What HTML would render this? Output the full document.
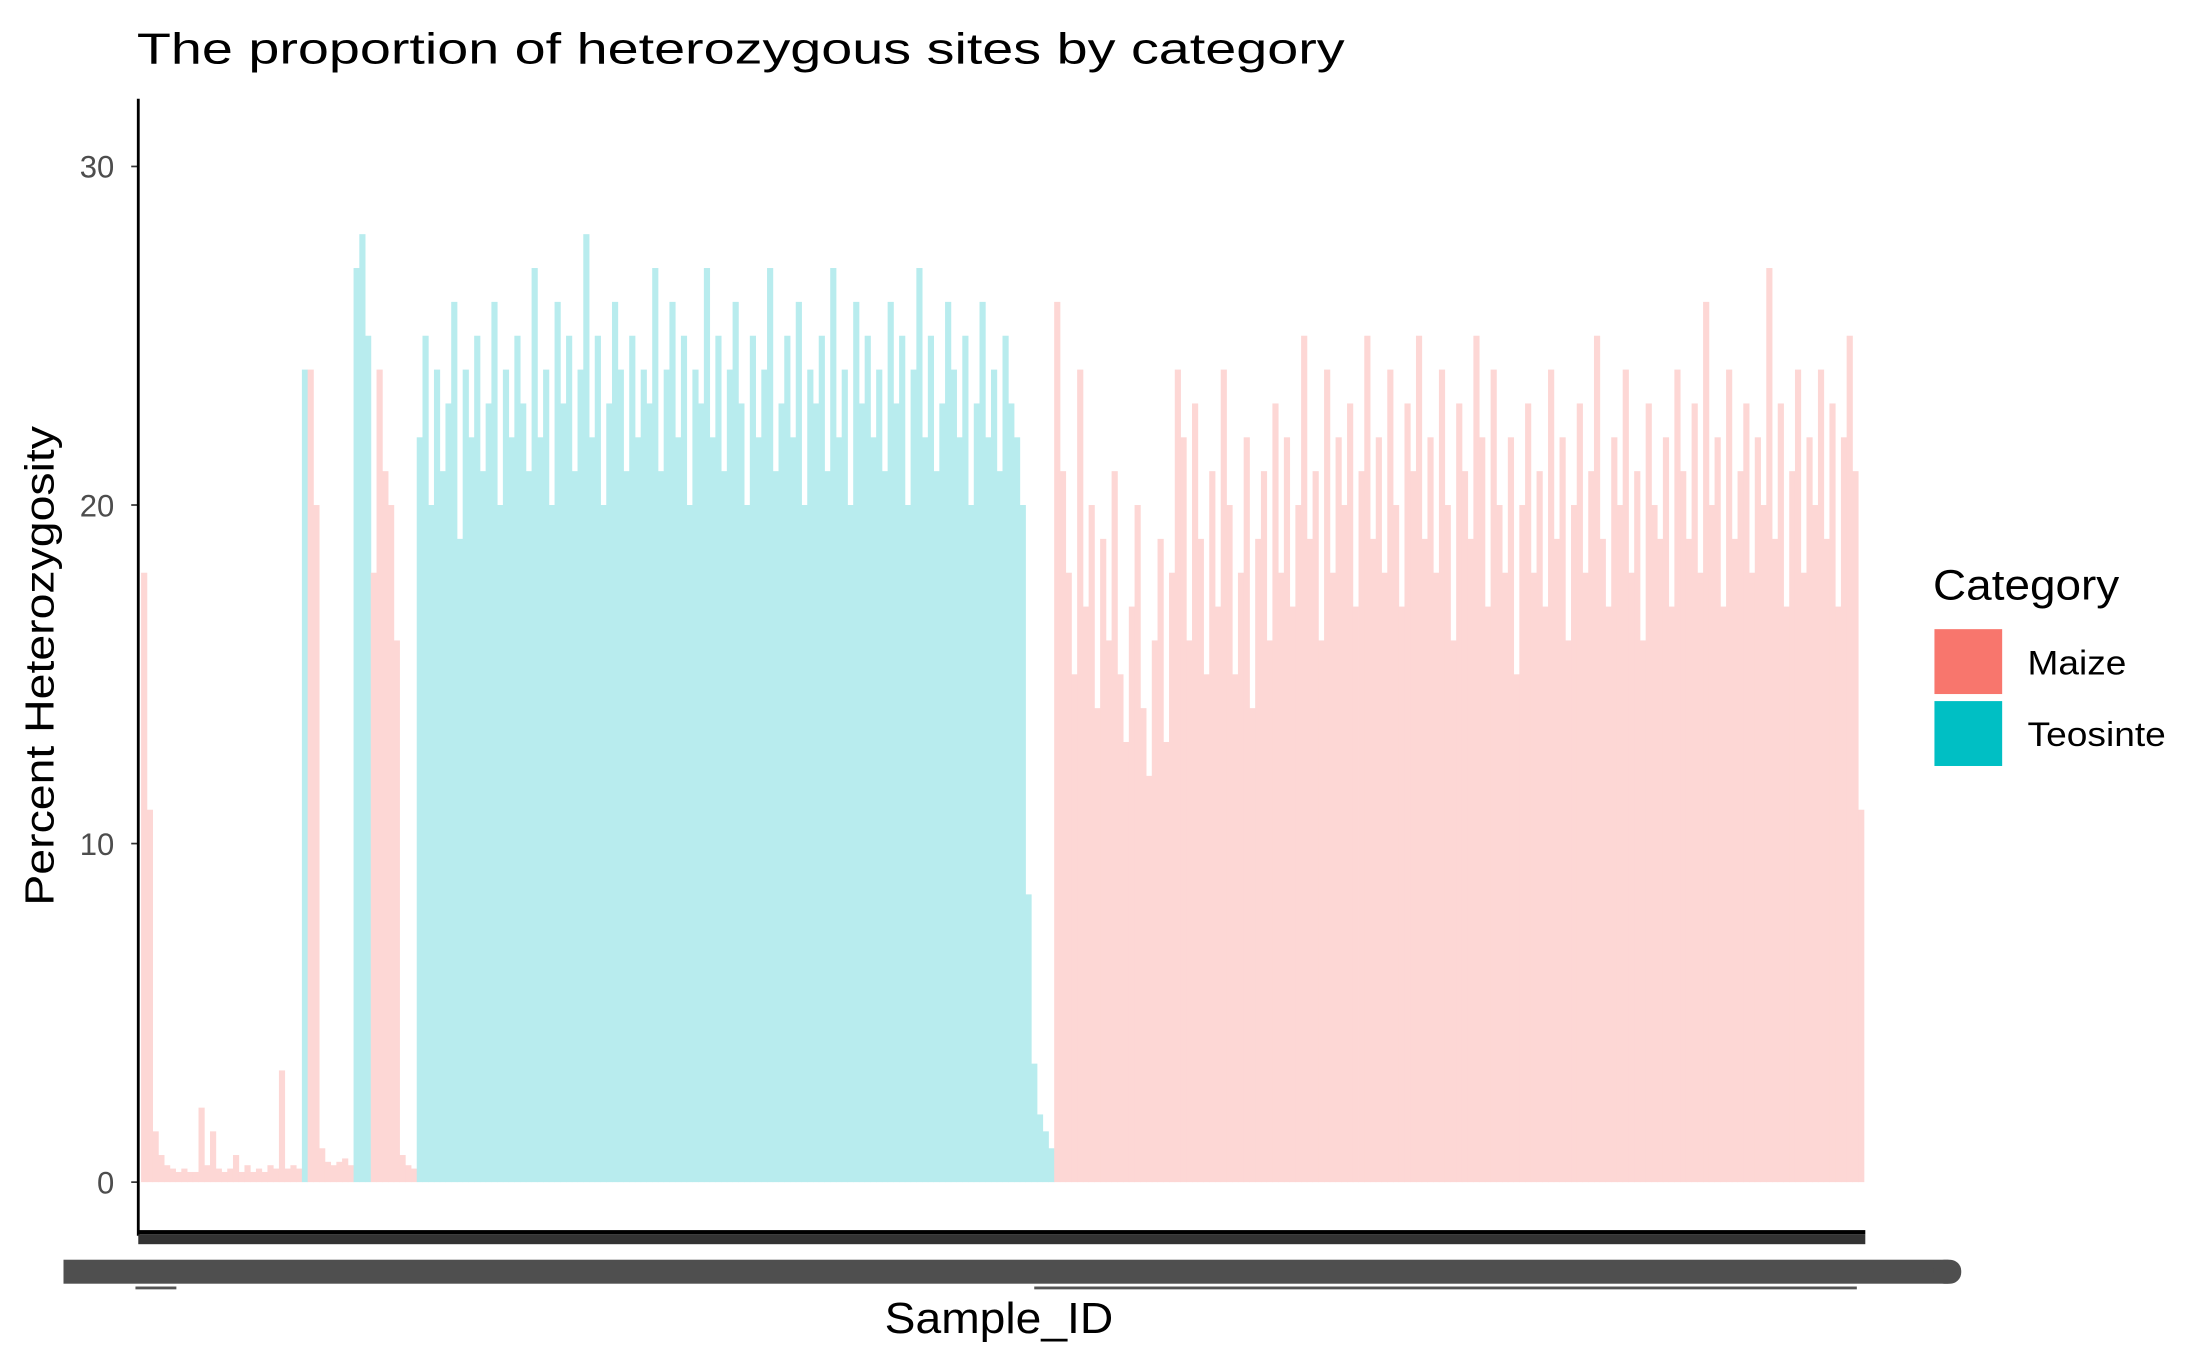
<!DOCTYPE html>
<html>
<head>
<meta charset="utf-8">
<style>
html,body{margin:0;padding:0;background:#fff;}
svg{display:block;font-family:"Liberation Sans",Arial,sans-serif;}
</style>
</head>
<body>
<svg id="chart" width="2187" height="1350" viewBox="0 0 1550 957" preserveAspectRatio="none" xmlns="http://www.w3.org/2000/svg">
  <rect x="0" y="0" width="1550" height="957" fill="#fff"/>
  <text x="97" y="45" font-size="31" fill="#000" textLength="856" lengthAdjust="spacingAndGlyphs">The proportion of heterozygous sites by category</text>
  <g id="bars"></g>
  <g id="yaxis"></g>
  <line x1="98" y1="70" x2="98" y2="876" stroke="#000" stroke-width="2"/>
  <rect x="98" y="872" width="1224" height="3" fill="#000"/>
  <rect x="98" y="875" width="1224" height="7" fill="#333"/>
  <rect x="45" y="893" width="1336" height="17" fill="#4f4f4f"/>
  <rect x="1370" y="893" width="20" height="17" rx="8" fill="#4f4f4f"/>
  <rect x="733" y="912" width="583" height="2" fill="#555"/>
  <rect x="96" y="912" width="29" height="2" fill="#555"/>
  <text x="38" y="472" font-size="29" fill="#000" text-anchor="middle" transform="rotate(-90 38 472)" textLength="340" lengthAdjust="spacingAndGlyphs">Percent Heterozygosity</text>
  <text x="708" y="945" font-size="31" fill="#000" text-anchor="middle" textLength="162" lengthAdjust="spacingAndGlyphs">Sample_ID</text>
  <g>
    <text x="1370" y="425" font-size="30" fill="#000" textLength="132" lengthAdjust="spacingAndGlyphs">Category</text>
    <rect x="1371" y="446" width="48" height="46" fill="#F8766D"/>
    <text x="1437" y="478" font-size="24" fill="#000" textLength="70" lengthAdjust="spacingAndGlyphs">Maize</text>
    <rect x="1371" y="497" width="48" height="46" fill="#00BFC4"/>
    <text x="1437" y="529" font-size="24" fill="#000" textLength="98" lengthAdjust="spacingAndGlyphs">Teosinte</text>
  </g>
</svg>
<script>
const values = [
18,11,1.5,0.8,0.5,0.4,0.3,0.4,0.3,0.3,2.2,0.5,1.5,0.4,0.3,0.4,0.8,0.3,0.5,0.3,0.4,0.3,0.5,0.4,3.3,0.4,0.5,0.4,
24,24,20,
1.0,0.6,0.5,0.6,0.7,0.5,
27,28,25,
18,24,21,20,16,
0.8,0.5,0.4,
22,25,20,24,21,23,26,19,24,22,25,21,23,26,20,24,22,25,23,21,
27,22,24,20,26,23,25,21,24,28,22,25,20,23,26,24,21,25,22,24,
23,27,21,24,26,22,25,20,24,23,27,22,25,21,24,26,23,20,25,22,
24,27,21,23,25,22,26,20,24,23,25,21,27,22,24,20,26,23,25,22,
24,21,26,23,25,20,24,27,22,25,21,23,26,24,22,25,20,23,26,22,
24,21,25,23,22,20,
8.5,3.5,2,1.5,1,
26,21,18,15,24,17,20,14,19,16,
21,15,13,17,20,14,12,16,19,13,
18,24,22,16,23,19,15,21,17,24,
20,15,18,22,14,19,21,16,23,18,
22,17,20,25,19,21,16,24,18,22,
20,23,17,21,25,19,22,18,24,20,
17,23,21,25,19,22,18,24,20,16,
23,21,19,25,22,17,24,20,18,22,
15,20,23,18,21,17,24,19,22,16,
20,23,18,21,25,19,17,22,20,24,
18,21,16,23,20,19,22,17,24,21,
19,23,18,26,20,22,17,24,19,21,
23,18,22,20,27,19,23,17,21,24,
18,22,20,24,19,23,17,22,25,21,
11
];
const categories = ("MMMMMMMMMM" + "MMMMMMMMMM" + "MMMMMMMM" +
  "TMM" + "MMMMMM" + "TTT" + "MMMMM" + "MMM" +
  "TTTTTTTTTT" + "TTTTTTTTTT" + "TTTTTTTTTT" + "TTTTTTTTTT" + "TTTTTTTTTT" +
  "TTTTTTTTTT" + "TTTTTTTTTT" + "TTTTTTTTTT" + "TTTTTTTTTT" + "TTTTTTTTTT" + "TTTTTT" +
  "TTTTT" +
  "MMMMMMMMMM" + "MMMMMMMMMM" + "MMMMMMMMMM" + "MMMMMMMMMM" + "MMMMMMMMMM" +
  "MMMMMMMMMM" + "MMMMMMMMMM" + "MMMMMMMMMM" + "MMMMMMMMMM" + "MMMMMMMMMM" +
  "MMMMMMMMMM" + "MMMMMMMMMM" + "MMMMMMMMMM" + "MMMMMMMMMM" + "M").split('');
const yTicks = [0, 10, 20, 30];
const yTickLabels = ["0", "10", "20", "30"];

const NS = "http://www.w3.org/2000/svg";
const plotLeft = 100, plotRight = 1321;
function yScale(v) { return 838 - v * 24.0; }
function xScale(i) { return plotLeft + i * (plotRight - plotLeft) / values.length; }
const colors = { M: "#FDD7D5", T: "#B8ECEE" };

const barsG = document.getElementById("bars");
const bw = (plotRight - plotLeft) / values.length;
values.forEach(function (v, i) {
  const r = document.createElementNS(NS, "rect");
  const cat = categories[i] || "M";
  r.setAttribute("x", xScale(i));
  r.setAttribute("y", yScale(v));
  r.setAttribute("width", bw + 0.3);
  r.setAttribute("height", Math.max(0, yScale(0) - yScale(v)));
  r.setAttribute("fill", colors[cat]);
  
  
  barsG.appendChild(r);
});

const yG = document.getElementById("yaxis");
yTicks.forEach(function (t, k) {
  const ln = document.createElementNS(NS, "line");
  ln.setAttribute("x1", 93); ln.setAttribute("x2", 98);
  ln.setAttribute("y1", yScale(t)); ln.setAttribute("y2", yScale(t));
  ln.setAttribute("stroke", "#333"); ln.setAttribute("stroke-width", "1.2");
  
  
  yG.appendChild(ln);
  const tx = document.createElementNS(NS, "text");
  tx.setAttribute("x", 81); tx.setAttribute("y", yScale(t) + 8);
  tx.setAttribute("text-anchor", "end");
  tx.setAttribute("font-size", "22");
  tx.setAttribute("fill", "#4d4d4d");
  tx.textContent = yTickLabels[k];
  
  
  yG.appendChild(tx);
});
</script>
</body>
</html>
